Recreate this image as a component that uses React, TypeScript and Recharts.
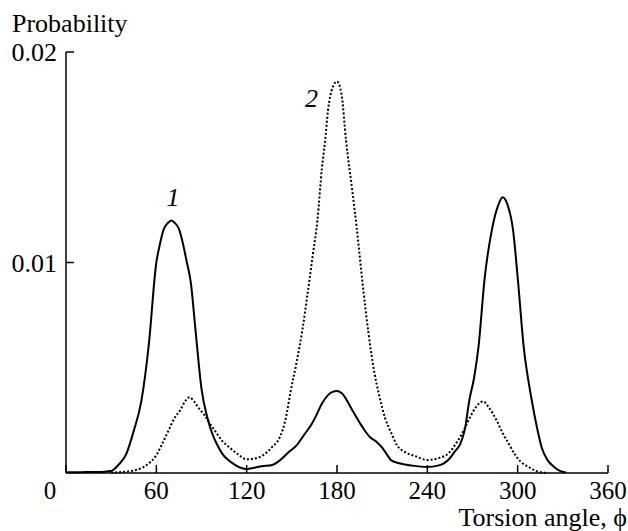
import { LineChart, Line, XAxis, YAxis, ReferenceDot, Label } from "recharts";

const FONT = "Liberation Serif, Times New Roman, Times, serif";
const textStyle = { fontFamily: FONT, fontSize: 26 };
const tickStyle = { fontFamily: FONT, fontSize: 25 };

// curve 1 (solid)
const curve1Angles = [
  0, 10, 20, 30, 35, 40, 45, 50, 55, 60, 62, 65, 68, 70, 72, 75, 78, 80, 83,
  86, 90, 94, 97, 100, 104, 108, 112, 116, 120, 125, 130, 137, 142, 148, 153,
  158, 163, 166, 170, 174, 177, 180, 183, 187, 190, 195, 199, 202, 206, 210,
  213, 216, 222, 230, 240, 247, 251, 255, 258, 262, 265, 268, 271, 274, 278,
  283, 287, 290, 293, 297, 300, 304, 309, 313, 316, 320, 324, 328, 332,
];
const curve1Values = [
  0.00003, 0.00004, 0.00005, 0.0001, 0.0004, 0.0009, 0.002, 0.0034, 0.0061,
  0.01, 0.01075, 0.0116, 0.0119, 0.012, 0.0119, 0.0116, 0.0108, 0.0101, 0.009,
  0.0068, 0.004, 0.0026, 0.0019, 0.0014, 0.0009, 0.0006, 0.0004, 0.00025,
  0.00019, 0.00025, 0.00032, 0.00038, 0.0006, 0.001, 0.0013, 0.0018, 0.0023,
  0.0027, 0.0033, 0.0037, 0.00385, 0.0039, 0.0038, 0.0034, 0.003, 0.0024,
  0.00196, 0.0017, 0.0015, 0.0012, 0.0009, 0.0006, 0.00045, 0.00035, 0.00029,
  0.00035, 0.00046, 0.0007, 0.001, 0.0014, 0.0021, 0.0035, 0.0045, 0.006,
  0.0092, 0.0116, 0.0127, 0.0131, 0.0128, 0.0115, 0.0093, 0.006, 0.0036,
  0.0021, 0.0012, 0.0006, 0.0003, 0.0001, 0.00003,
];

// curve 2 (dotted)
const curve2Angles = [
  30, 38, 44, 49, 54, 60, 64, 68, 72, 76, 79, 82, 85, 88, 92, 96, 100, 104,
  108, 114, 120, 126, 131, 137, 142, 146, 149, 153, 157, 161, 164, 167, 170,
  172, 174, 177, 180, 183, 186, 190, 193, 197, 201, 205, 208, 212, 216, 220,
  225, 232, 240, 247, 254, 259, 264, 268, 272, 277, 281, 286, 290, 294, 298,
  302, 307, 312, 316, 320,
];
const curve2Values = [
  0.00002, 0.00005, 0.0001, 0.0002, 0.0004, 0.00085, 0.0014, 0.002, 0.0026,
  0.003, 0.0034, 0.0036, 0.0034, 0.0031, 0.00275, 0.0023, 0.0019, 0.0015,
  0.00125, 0.0009, 0.00065, 0.0007, 0.00085, 0.00124, 0.0017, 0.0026, 0.0038,
  0.0052, 0.0068, 0.0088, 0.0104, 0.012, 0.0145, 0.0157, 0.0172, 0.0183,
  0.0186, 0.018, 0.0158, 0.0135, 0.0117, 0.009, 0.0066, 0.0047, 0.0037,
  0.0026, 0.0019, 0.0013, 0.001, 0.0008, 0.00062, 0.0007, 0.00093, 0.0014,
  0.002, 0.0026, 0.0031, 0.0034, 0.0031, 0.0025, 0.0019, 0.0014, 0.0009,
  0.00054, 0.0003, 0.0001, 0.00003, 0,
];

const xTicks = [0, 60, 120, 180, 240, 300, 360];
const yTicks = [0.01, 0.02];
const yTickLabels = ["0.01", "0.02"];

const curve1 = curve1Angles.map((angle, i) => ({ angle, p: curve1Values[i] }));
const curve2 = curve2Angles.map((angle, i) => ({ angle, p: curve2Values[i] }));

function XTick(props: any) {
  const { x, y, payload } = props;
  const v = payload.value;
  return (
    <g>
      <line x1={x} y1={y} x2={x} y2={y - 8} stroke="#000" strokeWidth={1.5} />
      <text
        x={v === 0 ? x - 16 : x}
        y={y + 26}
        textAnchor="middle"
        style={tickStyle}
        fill="#000"
      >
        {v}
      </text>
    </g>
  );
}

function YTick(props: any) {
  const { x, y, index } = props;
  return (
    <g>
      <line x1={x} y1={y} x2={x + 8} y2={y} stroke="#000" strokeWidth={1.5} />
      <text x={x - 9} y={y + 9} textAnchor="end" style={textStyle} fill="#000">
        {yTickLabels[index]}
      </text>
    </g>
  );
}

const curveLabel = (text: string) => (p: any) => (
  <text
    x={p.cx}
    y={p.cy}
    textAnchor="middle"
    style={{ ...textStyle, fontStyle: "italic" }}
    fill="#000"
  >
    {text}
  </text>
);

export default function App() {
  return (
    <div style={{ position: "absolute", left: 0, top: 0, background: "#fff" }}>
      <LineChart
        width={628}
        height={531}
        margin={{ top: 52, right: 20, bottom: 0, left: 0 }}
      >
        <XAxis
          type="number"
          dataKey="angle"
          domain={[0, 360]}
          ticks={xTicks}
          height={58}
          tickSize={0}
          tickMargin={0}
          tickLine={false}
          tick={<XTick />}
          axisLine={{ stroke: "#000", strokeWidth: 1.5 }}
          allowDuplicatedCategory={false}
        >
          <Label
            content={() => (
              <text x={627} y={526} textAnchor="end" style={textStyle} fill="#000">
                Torsion angle, ϕ
              </text>
            )}
          />
        </XAxis>
        <YAxis
          type="number"
          dataKey="p"
          domain={[0, 0.02]}
          ticks={yTicks}
          width={66}
          tickSize={0}
          tickMargin={0}
          tickLine={false}
          tick={<YTick />}
          axisLine={{ stroke: "#000", strokeWidth: 1.5 }}
        >
          <Label
            content={() => (
              <text x={12} y={32} style={textStyle} fill="#000">
                Probability
              </text>
            )}
          />
        </YAxis>
        <Line
          data={curve2}
          dataKey="p"
          type="monotone"
          stroke="#000"
          strokeWidth={2}
          strokeDasharray="2 2"
          dot={false}
          isAnimationActive={false}
        />
        <Line
          data={curve1}
          dataKey="p"
          type="monotone"
          stroke="#000"
          strokeWidth={2}
          dot={false}
          isAnimationActive={false}
        />
        <ReferenceDot x={71} y={0.0127} r={0} shape={curveLabel("1")} />
        <ReferenceDot x={163} y={0.0174} r={0} shape={curveLabel("2")} />
      </LineChart>
    </div>
  );
}
